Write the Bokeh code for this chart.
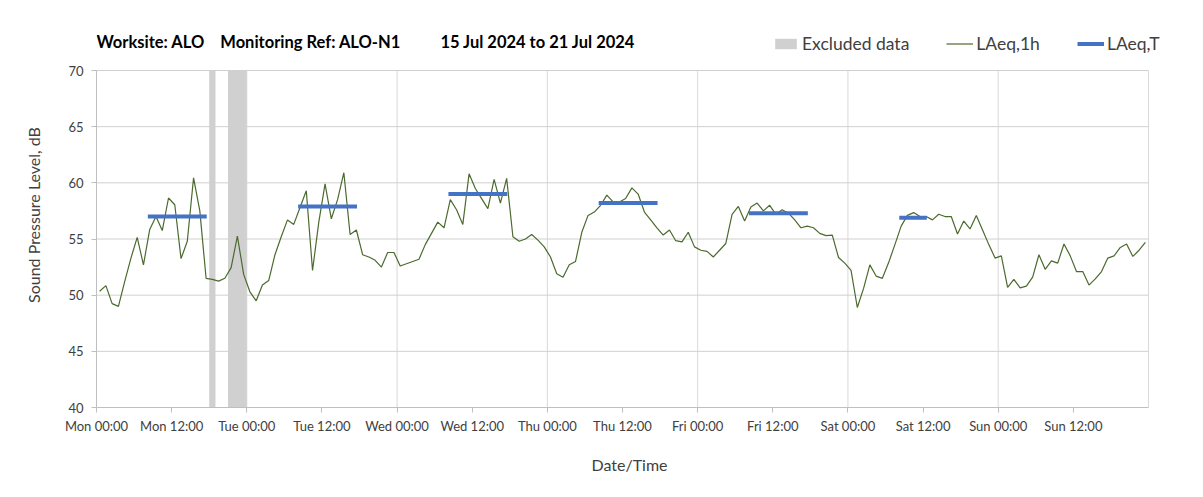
from bokeh.plotting import figure
from bokeh.models import FixedTicker, Legend, LegendItem, Range1d, Label
from bokeh.embed import file_html
from bokeh.resources import INLINE

# ---- data ----
days = ["Mon", "Tue", "Wed", "Thu", "Fri", "Sat", "Sun"]
laeq_mon = [50.35, 50.85, 49.25, 49.0, 51.2, 53.3, 55.15, 52.7, 55.85, 57.0, 55.75, 58.65,
            58.05, 53.25, 54.8, 60.45, 57.5, 51.5, 51.4, 51.25, 51.5, 52.45, 55.25, 51.85]
laeq_tue = [50.3, 49.5, 50.9, 51.3, 53.6, 55.2, 56.7, 56.3, 57.8, 59.3, 52.2, 56.5,
            59.9, 56.8, 58.5, 60.9, 55.4, 55.8, 53.6, 53.4, 53.1, 52.5, 53.8, 53.8]
laeq_wed = [52.6, 52.8, 53.0, 53.2, 54.5, 55.5, 56.5, 56.0, 58.5, 57.6, 56.3, 60.8,
            59.5, 58.6, 57.7, 60.3, 58.2, 60.4, 55.2, 54.8, 55.0, 55.4, 54.9, 54.3]
laeq_thu = [53.4, 51.9, 51.6, 52.7, 53.0, 55.6, 57.1, 57.4, 58.0, 58.9, 58.3, 58.3,
            58.6, 59.55, 59.0, 57.4, 56.7, 56.0, 55.35, 55.8, 54.85, 54.75, 55.6, 54.3]
laeq_fri = [54.0, 53.9, 53.4, 54.0, 54.6, 57.2, 57.9, 56.6, 57.85, 58.2, 57.5, 58.0,
            57.2, 57.6, 57.3, 56.7, 56.0, 56.15, 56.0, 55.5, 55.3, 55.35, 53.35, 52.85]
laeq_sat = [52.2, 48.9, 50.6, 52.7, 51.7, 51.5, 52.9, 54.5, 56.15, 57.1, 57.35, 57.0,
            57.0, 56.7, 57.2, 57.0, 57.0, 55.45, 56.6, 55.9, 57.1, 55.8, 54.5, 53.3]
laeq_sun = [53.5, 50.7, 51.4, 50.65, 50.8, 51.6, 53.6, 52.3, 53.05, 52.85, 54.55, 53.5,
            52.1, 52.1, 50.9, 51.45, 52.1, 53.3, 53.5, 54.25, 54.55, 53.45, 54.0, 54.7]

# LAeq,T daytime periods (hours from Mon 00:00)
period_start = [8.2, 32.2, 56.2, 80.2, 104.2, 128.2]
period_end = [17.6, 41.6, 65.6, 89.6, 113.6, 132.6]
laeq_t = [57.0, 57.9, 59.0, 58.2, 57.3, 56.9]

# excluded data (hours from Mon 00:00)
excl_start = [18, 21]
excl_end = [19, 24]

x_ticks = list(range(0, 168, 12))
x_labels = ["Mon 00:00", "Mon 12:00", "Tue 00:00", "Tue 12:00", "Wed 00:00", "Wed 12:00",
            "Thu 00:00", "Thu 12:00", "Fri 00:00", "Fri 12:00", "Sat 00:00", "Sat 12:00",
            "Sun 00:00", "Sun 12:00"]
x_grid = [24, 48, 72, 96, 120, 144, 168]
y_ticks = [40, 45, 50, 55, 60, 65, 70]
X_MIN, X_MAX = 0, 168
Y_MIN, Y_MAX = 40, 70

title_parts = ["Worksite: ALO", "Monitoring Ref: ALO-N1", "15 Jul 2024 to 21 Jul 2024"]

# ---- layout constants (pixels) ----
PLOT_W = 1052         # width of the 7-day band
PLOT_H = 337          # height of the 40..70 dB band
HEADER = 48           # extra frame room above 70 dB for title / legend
RIGHT_PAD = 14        # extra frame room right of the last day (legend overhang)
px_per_db = PLOT_H / (Y_MAX - Y_MIN)
px_per_h = PLOT_W / (X_MAX - X_MIN)
y_top = Y_MAX + HEADER / px_per_db
x_right = X_MAX + RIGHT_PAD / px_per_h

# ---- build ----
series = laeq_mon + laeq_tue + laeq_wed + laeq_thu + laeq_fri + laeq_sat + laeq_sun
hours = [d * 24 + h + 0.5 for d in range(7) for h in range(24)]

FONT = "Lato"
TXT = "#404040"
GRID = "#d9d9d9"

p = figure(width=1195, height=489, output_backend="svg", toolbar_location=None,
           x_range=Range1d(X_MIN, x_right), y_range=Range1d(Y_MIN, y_top),
           min_border_left=96, min_border_right=47 - RIGHT_PAD, min_border_top=70 - HEADER,
           min_border_bottom=82)
p.outline_line_color = None
p.xgrid.visible = False
p.ygrid.visible = False

# gridlines drawn only across the 7-day x 40..70 dB band
p.segment(x0=x_grid, y0=Y_MIN, x1=x_grid, y1=Y_MAX, line_color=GRID, line_width=1)
p.segment(x0=X_MIN, y0=y_ticks, x1=X_MAX, y1=y_ticks, line_color="#d0d0d0", line_width=1)

r_ex = p.quad(left=excl_start, right=excl_end, bottom=Y_MIN, top=Y_MAX,
              fill_color="#d0d0d0", line_color=None)
r_line = p.line(hours, series, line_color="#4b6a2e", line_width=1.2)
r_t = p.segment(x0=period_start, y0=laeq_t, x1=period_end, y1=laeq_t,
                line_color="#4472c4", line_width=4)

# axes
for ax in (p.xaxis[0], p.yaxis[0]):
    ax.axis_line_color = "#bfbfbf"
    ax.major_tick_line_color = "#bfbfbf"
    ax.minor_tick_line_color = None
    ax.major_tick_out = 5
    ax.major_tick_in = 0
    ax.major_label_text_font = FONT
    ax.major_label_text_font_size = "13px"
    ax.major_label_text_color = TXT
    ax.axis_label_text_font = FONT
    ax.axis_label_text_font_size = "16px"
    ax.axis_label_text_font_style = "normal"
    ax.axis_label_text_color = TXT

p.xaxis.ticker = FixedTicker(ticks=x_ticks)
p.xaxis.bounds = (X_MIN, X_MAX)
p.xaxis.major_label_overrides = {t: l for t, l in zip(x_ticks, x_labels)}
p.xaxis.major_label_standoff = 5
p.xaxis.axis_label = "Date/Time"
p.xaxis.axis_label_standoff = 18

p.yaxis.ticker = FixedTicker(ticks=y_ticks)
p.yaxis.bounds = (Y_MIN, Y_MAX)
p.yaxis.major_label_standoff = 8
p.yaxis.axis_label = "Sound Pressure Level, dB"
p.yaxis.axis_label_standoff = 22

# title as a label inside the header room
nb = "\u00a0"
title_text = title_parts[0] + nb * 4 + title_parts[1] + nb * 10 + title_parts[2]
title_y = Y_MAX + 29 / px_per_db
p.add_layout(Label(x=X_MIN, y=title_y, text=title_text, text_font=FONT,
                   text_font_size="16.5px", text_font_style="bold", text_color="#000000",
                   text_baseline="middle", text_align="left"))

legend = Legend(items=[LegendItem(label="Excluded data", renderers=[r_ex]),
                       LegendItem(label="LAeq,1h", renderers=[r_line]),
                       LegendItem(label="LAeq,T", renderers=[r_t])],
                orientation="horizontal", location=(676, PLOT_H + 16),
                border_line_color=None, background_fill_alpha=0,
                glyph_width=27, glyph_height=13, label_standoff=3, spacing=37,
                padding=0, margin=0, label_text_font=FONT, label_text_font_size="17.5px",
                label_text_color=TXT)
p.add_layout(legend)

open("out.html", "w").write(file_html(p, INLINE))
